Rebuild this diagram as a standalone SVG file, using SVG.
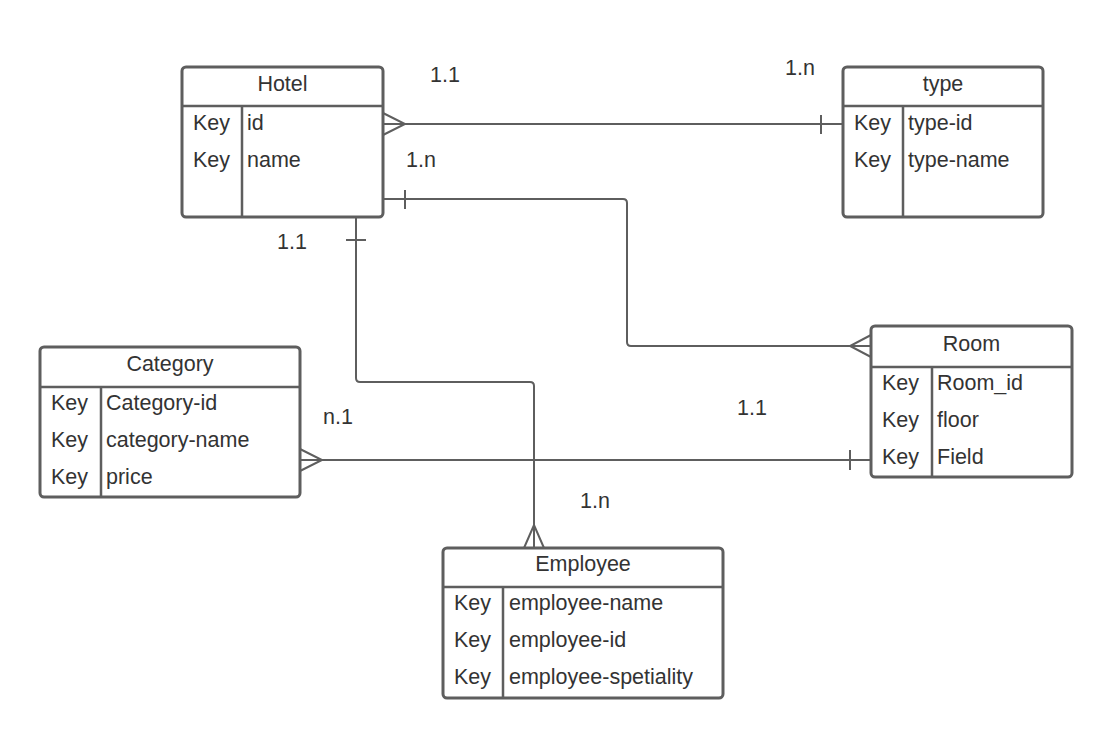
<svg xmlns="http://www.w3.org/2000/svg" width="1112" height="738" viewBox="0 0 1112 738">
<style>
.box{fill:#fff;stroke:#5e5e5e;stroke-width:3}
.ln{fill:none;stroke:#5e5e5e;stroke-width:2.5}
.c{fill:none;stroke:#5e5e5e;stroke-width:2}
text{font-family:"Liberation Sans",Arial,sans-serif;font-size:21.5px;fill:#333}
.t{text-anchor:middle}
</style>
<rect width="1112" height="738" fill="#fff"/>
<g id="connectors">
<path class="c" d="M383,124 H843"/>
<path class="c" d="M383,113 L405,124 L383,135"/>
<path class="c" d="M821,115 V134"/>
<path class="c" d="M383,199 H623 Q627,199 627,203 V342 Q627,346 631,346 H871"/>
<path class="c" d="M405,190 V209"/>
<path class="c" d="M871,335 L850,346 L871,357"/>
<path class="c" d="M356,217 V378 Q356,382 360,382 H530 Q534,382 534,386 V548"/>
<path class="c" d="M346,240 H366"/>
<path class="c" d="M524,548 L534,525 L544,548"/>
<path class="c" d="M300,460 H871"/>
<path class="c" d="M300,449 L322,460 L300,471"/>
<path class="c" d="M850,450 V470"/>
</g>
<g id="labels">
<text x="445" y="82" class="t">1.1</text>
<text x="800" y="75" class="t">1.n</text>
<text x="421" y="167" class="t">1.n</text>
<text x="292" y="249" class="t">1.1</text>
<text x="338" y="424" class="t">n.1</text>
<text x="752" y="415" class="t">1.1</text>
<text x="595" y="508" class="t">1.n</text>
</g>
<g id="hotel">
<rect class="box" x="182" y="67" width="201" height="150" rx="4"/>
<path class="ln" d="M182,106 H383 M242,106 V217"/>
<text x="282.5" y="91" class="t">Hotel</text>
<text x="193" y="130">Key</text><text x="247" y="130">id</text>
<text x="193" y="167">Key</text><text x="247" y="167">name</text>
</g>
<g id="type">
<rect class="box" x="843" y="67" width="200" height="150" rx="4"/>
<path class="ln" d="M843,106 H1043 M903,106 V217"/>
<text x="943" y="91" class="t">type</text>
<text x="854" y="130">Key</text><text x="908" y="130">type-id</text>
<text x="854" y="167">Key</text><text x="908" y="167">type-name</text>
</g>
<g id="category">
<rect class="box" x="40" y="347" width="260" height="150" rx="4"/>
<path class="ln" d="M40,387 H300 M101,387 V497"/>
<text x="170" y="371" class="t">Category</text>
<text x="51" y="410">Key</text><text x="106" y="410">Category-id</text>
<text x="51" y="447">Key</text><text x="106" y="447">category-name</text>
<text x="51" y="484">Key</text><text x="106" y="484">price</text>
</g>
<g id="room">
<rect class="box" x="871" y="326" width="201" height="151" rx="4"/>
<path class="ln" d="M871,367 H1072 M932,367 V477"/>
<text x="971.5" y="351" class="t">Room</text>
<text x="882" y="390">Key</text><text x="937" y="390">Room_id</text>
<text x="882" y="427">Key</text><text x="937" y="427">floor</text>
<text x="882" y="464">Key</text><text x="937" y="464">Field</text>
</g>
<g id="employee">
<rect class="box" x="443" y="548" width="280" height="150" rx="4"/>
<path class="ln" d="M443,587 H723 M503,587 V698"/>
<text x="583" y="571" class="t">Employee</text>
<text x="454" y="610">Key</text><text x="509" y="610">employee-name</text>
<text x="454" y="647">Key</text><text x="509" y="647">employee-id</text>
<text x="454" y="684">Key</text><text x="509" y="684">employee-spetiality</text>
</g>
</svg>
